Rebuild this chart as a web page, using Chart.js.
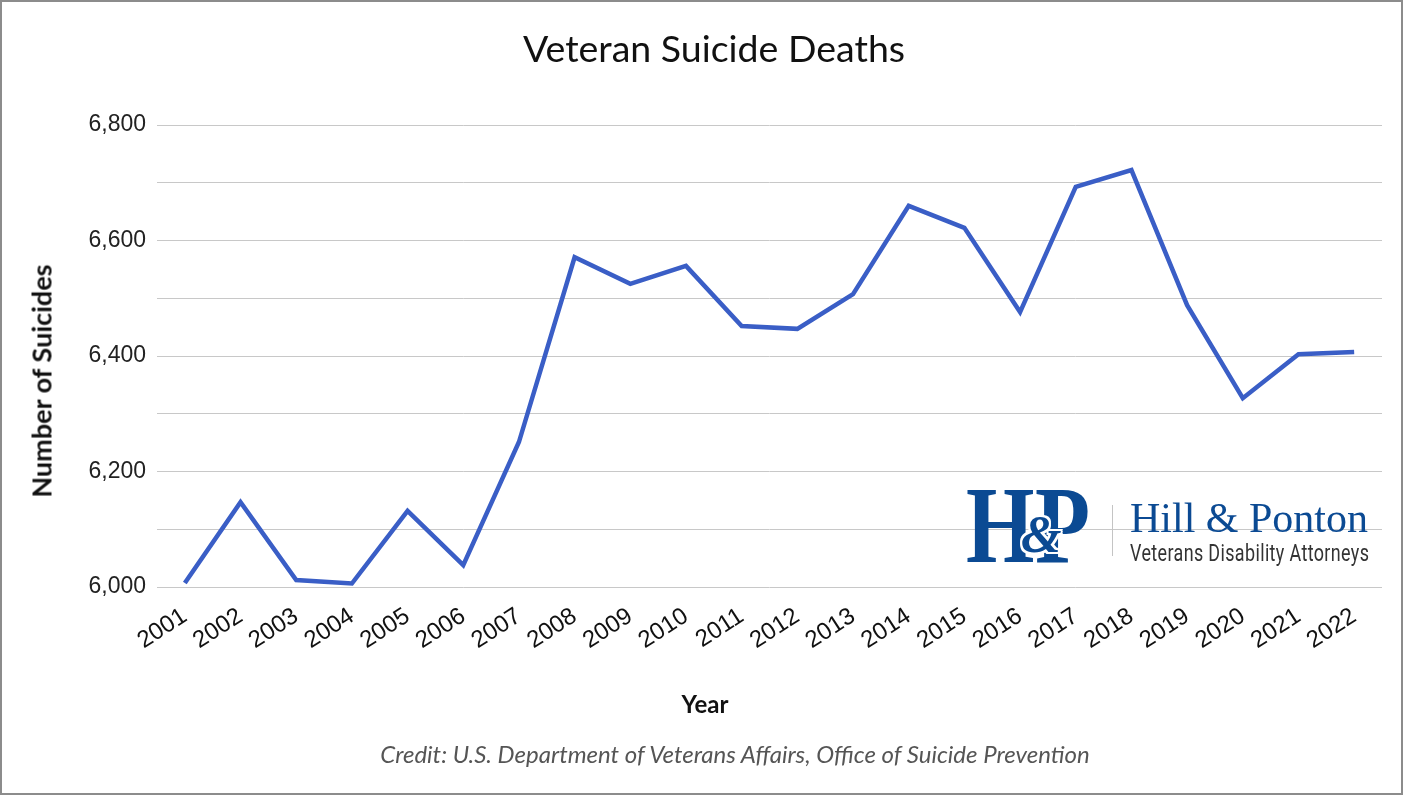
<!DOCTYPE html>
<html>
<head>
<meta charset="utf-8">
<script src="https://cdn.jsdelivr.net/npm/chart.js@4.4.1/dist/chart.umd.min.js"></script>
<style>
  html, body { margin: 0; padding: 0; background: #fff; }
  #wrap { position: relative; width: 1403px; height: 795px; overflow: hidden; }
  #frame { position: absolute; left: 0; top: 0; width: 1403px; height: 795px; box-sizing: border-box; border: 2px solid #8c8c8c; pointer-events: none; }
  .txt { position: absolute; white-space: nowrap; line-height: 1; }
  #title { left: 714px; top: 25px; transform: translateX(-50%); font: 37.5px Lato, sans-serif; color: #111; }
  #ytitle { left: 41px; top: 381px; transform: translate(-50%, -50%) rotate(-90deg); font: bold 27px Lato, sans-serif; color: #111; }
  #xtitle { left: 705px; top: 689px; transform: translateX(-50%); font: bold 24px Lato, sans-serif; color: #111; }
  #credit { left: 735px; top: 739px; transform: translateX(-50%); font: italic 24px Lato, sans-serif; color: #555; }
  .logo { color: #0b4a93; font-family: "Liberation Serif", serif; }
  #lH { left: 966px; top: 470px; font-size: 110px; font-weight: bold; transform: scaleX(0.8); transform-origin: left top; }
  #lP { left: 1035px; top: 470px; font-size: 110px; font-weight: bold; transform: scaleX(0.82); transform-origin: left top; }
  #lAmp { left: 1021px; top: 509px; font-size: 52px; font-weight: bold; font-style: italic;
          text-shadow: 2px 0 #fff, -2px 0 #fff, 0 2px #fff, 0 -2px #fff, 2px 2px #fff, -2px -2px #fff, 2px -2px #fff, -2px 2px #fff; }
  #lSep { position: absolute; left: 1112px; top: 505px; width: 1px; height: 51px; background: #c4c4c4; }
  #lName { left: 1130px; top: 497px; font-size: 42px; }
  #lTag { left: 1130px; top: 539px; font: 24px Roboto, sans-serif; letter-spacing: 0.5px; color: #333; transform: scaleX(0.747); transform-origin: left top; }
</style>
</head>
<body>
<div id="wrap">
  <canvas id="chart" width="1403" height="795"></canvas>
  <div class="txt" id="title">Veteran Suicide Deaths</div>
  <div class="txt" id="ytitle">Number of Suicides</div>
  <div class="txt" id="xtitle">Year</div>
  <div class="txt" id="credit">Credit: U.S. Department of Veterans Affairs, Office of Suicide Prevention</div>
  <div class="txt logo" id="lH">H</div>
  <div class="txt logo" id="lP">P</div>
  <div class="txt logo" id="lAmp">&amp;</div>
  <div id="lSep"></div>
  <div class="txt logo" id="lName">Hill &amp; Ponton</div>
  <div class="txt" id="lTag">Veterans Disability Attorneys</div>
  <div id="frame"></div>
</div>
<script>
// values
const years = ['2001', '2002', '2003', '2004', '2005', '2006', '2007', '2008', '2009', '2010', '2011',
  '2012', '2013', '2014', '2015', '2016', '2017', '2018', '2019', '2020', '2021', '2022']
const deaths = [6007, 6147, 6012, 6006, 6132, 6038, 6251, 6571, 6525, 6556, 6452,
  6447, 6507, 6660, 6622, 6476, 6693, 6722, 6488, 6327, 6403, 6407]
const yMin = 6000
const yMax = 6800
const yStep = 100

const ctx = document.getElementById('chart')
new Chart(ctx, {
  type: 'line',
  data: {
    labels: years,
    datasets: [{
      label: 'Veteran Suicide Deaths',
      data: deaths,
      borderColor: '#3a5ec6',
      borderWidth: 4.5,
      borderJoinStyle: 'miter',
      pointRadius: 0,
      tension: 0,
      fill: false
    }]
  },
  options: {
    responsive: false,
    animation: false,
    devicePixelRatio: 1,
    layout: { padding: { left: 10, right: 21, top: 125, bottom: 108 } },
    plugins: { legend: { display: false }, tooltip: { enabled: false } },
    scales: {
      x: {
        offset: true,
        grid: { display: false },
        border: { display: false },
        ticks: {
          autoSkip: false, maxRotation: 33, minRotation: 33, padding: 7,
          color: '#111', font: { family: '"Liberation Sans", Arial, sans-serif', size: 24 }
        },
        afterFit: scale => { scale.height = 100 }
      },
      y: {
        min: yMin, max: yMax,
        grid: { color: '#c8c8c8', lineWidth: 1, drawTicks: false },
        border: { display: false },
        ticks: {
          stepSize: yStep, padding: 11,
          color: '#222', font: { family: '"Liberation Sans", Arial, sans-serif', size: 23 },
          callback: v => v % 200 === 0 ? v.toLocaleString('en-US') : ''
        },
        afterFit: scale => { scale.width = 147 }
      }
    }
  }
})
</script>
</body>
</html>
